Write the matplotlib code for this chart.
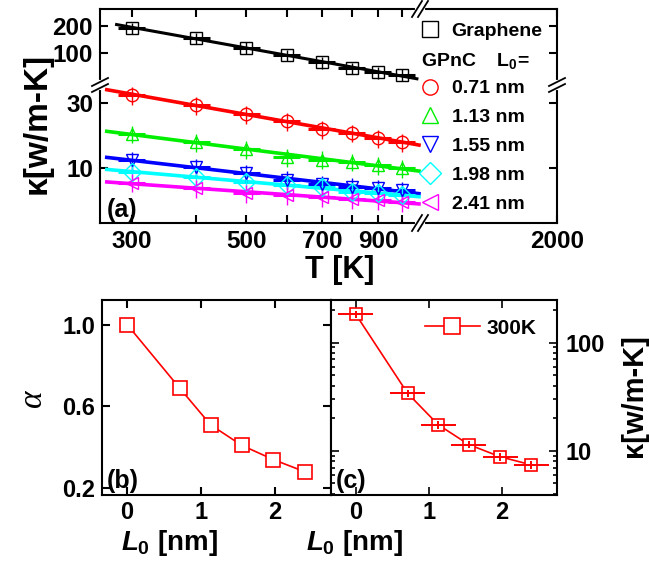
import numpy as np
import matplotlib.pyplot as plt
from matplotlib.lines import Line2D
from matplotlib.ticker import NullLocator, FixedLocator

plt.rcParams['font.family'] = 'Liberation Sans'
plt.rcParams['font.weight'] = 'bold'
plt.rcParams['axes.labelweight'] = 'bold'
plt.rcParams['mathtext.fontset'] = 'custom'
plt.rcParams['mathtext.rm'] = 'Liberation Sans:bold'
plt.rcParams['mathtext.bf'] = 'Liberation Sans:bold'
plt.rcParams['mathtext.it'] = 'Liberation Sans:italic:bold'
plt.rcParams['axes.linewidth'] = 1.5

# ---- data ----
T = [300, 400, 500, 600, 700, 800, 900, 1000]
k_graphene = [190, 147, 114, 95, 79, 68, 61, 57]
k_071 = [34.3, 29.0, 24.9, 22.1, 19.3, 18.1, 16.6, 15.5]
k_113 = [17.8, 15.5, 13.8, 12.0, 11.5, 11.1, 10.5, 10.0]
k_155 = [11.4, 10.2, 9.2, 8.2, 7.6, 7.3, 7.1, 6.9]
k_198 = [9.35, 8.6, 7.9, 7.5, 7.25, 6.7, 6.55, 6.3]
k_241 = [7.8, 7.1, 6.55, 6.3, 6.1, 5.9, 5.8, 5.6]
T_err_frac = 0.06
k_err_frac = 0.15

L0 = [0, 0.71, 1.13, 1.55, 1.98, 2.41]
alpha = [1.0, 0.69, 0.51, 0.41, 0.34, 0.28]
k300 = [182, 34.0, 17.4, 11.4, 8.8, 7.4]
L0_err = 0.24
k300_err_frac = 0.08

gpnc = [(k_071, 'o', '#ff0000', '0.71 nm'),
        (k_113, '^', '#00ee00', '1.13 nm'),
        (k_155, 'v', '#0000ff', '1.55 nm'),
        (k_198, 'D', '#00ffff', '1.98 nm'),
        (k_241, '<', '#ff00ff', '2.41 nm')]

W, H = 649, 562
fig = plt.figure(figsize=(W / 100, H / 100), dpi=100)

def box(x0, y0, x1, y1):
    return [x0 / W, 1 - y1 / H, (x1 - x0) / W, (y1 - y0) / H]

def px(x, y):
    return x / W, 1 - y / H

ax_top = fig.add_axes(box(100, 9, 557, 85))
ax_bot = fig.add_axes(box(100, 85, 557, 223))
ax_b = fig.add_axes(box(102, 300, 331, 495))
ax_c = fig.add_axes(box(331, 300, 557, 495))

T = np.array(T)

def fit_line(ax, k, color, t0, t1, lw):
    p = np.polyfit(np.log10(T), np.log10(k), 1)
    tt = np.array([t0, t1])
    ax.plot(tt, 10 ** np.polyval(p, np.log10(tt)), color=color, lw=lw, zorder=2)

def points(ax, k, marker, color):
    k = np.array(k)
    ax.errorbar(T, k, xerr=T_err_frac * T, fmt='none', ecolor=color, elinewidth=2.2, capsize=0, zorder=3)
    ax.errorbar(T, k, yerr=k_err_frac * k, fmt=marker, mfc='none', mec=color, mew=1.0, ms=9,
                ecolor=color, elinewidth=1.0, capsize=0, zorder=4)

# ---- panel (a) ----
fit_line(ax_top, k_graphene, 'black', 280, 1070, 2.2)
points(ax_top, k_graphene, 's', 'black')
for k, m, c, lab in gpnc:
    fit_line(ax_bot, k, c, 268, 1080, 2.6)
    points(ax_bot, k, m, c)

xt = [300, 400, 500, 600, 700, 800, 900, 1000, 2000]
xl = ['300', '', '500', '', '700', '', '900', '', '2000']
for ax in (ax_top, ax_bot):
    ax.set_xscale('log')
    ax.set_yscale('log')
    ax.set_xlim(260, 2000)
    ax.set_xticks(xt, xl)
    ax.xaxis.set_minor_locator(NullLocator())
    ax.yaxis.set_minor_locator(NullLocator())
    ax.tick_params(which='both', direction='in', length=6, width=1.5, labelsize=17.5,
                   left=True, right=True, pad=5)

ax_top.set_ylim(44, 309)
ax_top.set_yticks([100, 200], ['100', '200'])
ax_top.tick_params(bottom=False, labelbottom=False, top=True)
ax_top.spines['bottom'].set_visible(False)

ax_bot.set_ylim(3.95, 40.6)
ax_bot.set_yticks([10, 30], ['10', '30'])
ax_bot.tick_params(top=False, bottom=True)
ax_bot.spines['top'].set_visible(False)
ax_bot.text(0.015, 0.01, '(a)', transform=ax_bot.transAxes, fontsize=18, va='bottom')

ax_bot.set_xlabel('T [K]', fontsize=22)
ax_bot.xaxis.set_label_coords(0.525, -0.235)
fig.text(*px(37, 123), 'κ[w/m-K]', rotation=90, ha='center', va='center', fontsize=24,
         weight='bold')

# break marks
def slash(p0, p1):
    fig.add_artist(Line2D([p0[0] / W, p1[0] / W], [1 - p0[1] / H, 1 - p1[1] / H],
                          color='black', lw=1.3, zorder=10))

def gap(p0, p1):
    fig.add_artist(Line2D([p0[0] / W, p1[0] / W], [1 - p0[1] / H, 1 - p1[1] / H],
                          color='white', lw=3, zorder=9))

for yc in (9, 223):
    gap((417, yc), (423, yc))
    for dx in (-3, 3):
        slash((420 + dx - 5, yc + 8), (420 + dx + 5, yc - 8))
for xc in (100, 557):
    gap((xc, 82), (xc, 88))
    for dy in (-3, 3):
        slash((xc - 8, 85 + dy + 4), (xc + 8, 85 + dy - 4))

# legend for (a)
handles = [Line2D([], [], ls='none', marker='s', mfc='none', mec='black', ms=11, mew=1.0),
           Line2D([], [], ls='none')]
labels = ['Graphene', ' ']
for k, m, c, lab in gpnc:
    handles.append(Line2D([], [], ls='none', marker=m, mfc='none', mec=c, ms=11, mew=1.0))
    labels.append(lab)
fig.legend(handles, labels, loc='upper left', bbox_to_anchor=px(420, 22), frameon=False,
           borderpad=0, borderaxespad=0, handlelength=1.0, handletextpad=0.63,
           labelspacing=0.58, prop=dict(size=14, weight='bold'))
fig.text(*px(421, 61), r'GPnC    L$_\mathrm{0}$=', va='center', ha='left', fontsize=14)

# ---- panel (b) ----
ax_b.plot(L0, alpha, color='red', lw=1.2, zorder=2)
ax_b.plot(L0, alpha, ls='none', marker='s', ms=10, mfc='white', mec='red', mew=1.2, zorder=3)
ax_b.set_xlim(-0.34, 2.76)
ax_b.set_ylim(0.167, 1.12)
ax_b.set_xticks([0, 1, 2], ['0', '1', '2'])
ax_b.set_yticks([0.2, 0.6, 1.0], ['0.2', '0.6', '1.0'])
ax_b.tick_params(direction='in', length=6, width=1.5, labelsize=17, top=True, right=True, pad=5)
ax_b.tick_params(axis='x', pad=4)
ax_b.set_xlabel(r'$L_0$ [nm]', fontsize=20)
ax_b.xaxis.label.set_va('center')
ax_b.xaxis.set_label_coords(0.293, -0.245)
ax_b.set_ylabel('α', fontsize=24, family='Liberation Serif', style='italic', weight='normal')
ax_b.yaxis.label.set_va('center')
ax_b.yaxis.set_label_coords(-0.301, 0.497)
ax_b.text(0.02, 0.01, '(b)', transform=ax_b.transAxes, fontsize=18, va='bottom')

# ---- panel (c) ----
k300 = np.array(k300)
ax_c.plot(L0, k300, color='red', lw=1.2, zorder=2)
ax_c.plot(L0, k300, ls='none', marker='s', ms=9, mfc='white', mec='red', mew=1.2, zorder=3)
ax_c.errorbar(L0, k300, xerr=L0_err, yerr=k300_err_frac * k300, fmt='none', ecolor='red',
              elinewidth=1.4, capsize=0, zorder=4)
ax_c.set_yscale('log')
ax_c.set_xlim(-0.34, 2.76)
ax_c.set_ylim(3.9, 247)
ax_c.set_xticks([0, 1, 2], ['0', '1', '2'])
ax_c.set_yticks([10, 100], ['10', '100'])
ax_c.yaxis.set_minor_locator(FixedLocator([s * d for d in (1, 10, 100) for s in range(2, 10)]))
ax_c.tick_params(which='both', direction='in', width=1.2, labelsize=17, top=True, right=True,
                 left=True, labelleft=False, labelright=True, pad=6)
ax_c.tick_params(axis='x', pad=4)
ax_c.tick_params(which='major', length=6)
ax_c.tick_params(which='minor', length=3)
ax_c.set_xlabel(r'$L_0$ [nm]', fontsize=20)
ax_c.xaxis.label.set_va('center')
ax_c.xaxis.set_label_coords(0.102, -0.245)
ax_c.yaxis.set_label_position('right')
ax_c.set_ylabel('κ[w/m-K]', fontsize=21)
ax_c.yaxis.label.set_va('center')
ax_c.yaxis.set_label_coords(1.34, 0.508)
ax_c.text(0.02, 0.01, '(c)', transform=ax_c.transAxes, fontsize=18, va='bottom')
h300 = Line2D([], [], color='red', lw=1.2, marker='s', ms=11, mfc='white', mec='red', mew=1.2)
ax_c.legend([h300], ['300K'], loc='upper right', bbox_to_anchor=(0.91, 0.905), frameon=False,
            borderpad=0, borderaxespad=0, handlelength=2.64, handletextpad=0.34,
            prop=dict(size=15, weight='bold'))

fig.savefig('out.png', dpi=100)
